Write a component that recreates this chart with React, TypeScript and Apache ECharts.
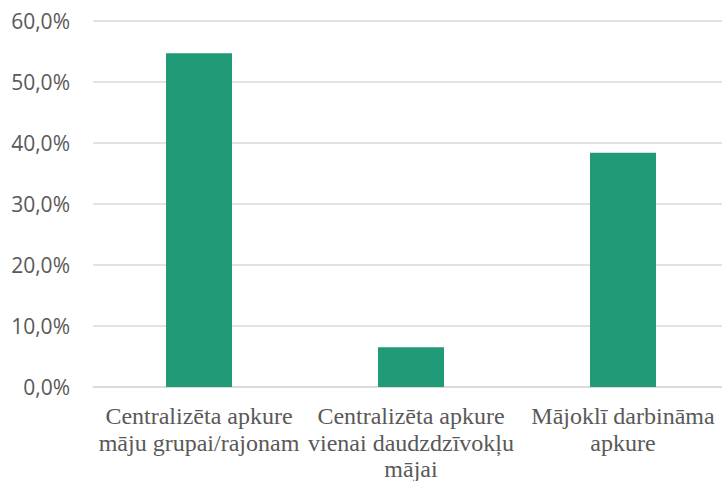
import React, { useEffect, useRef } from "react";
import * as echarts from "echarts";

const categories: string[] = [
  "Centralizēta apkure\nmāju grupai/rajonam",
  "Centralizēta apkure\nvienai daudzdzīvokļu\nmājai",
  "Mājoklī darbināma\napkure",
];
const shares: number[] = [54.7, 6.5, 38.4];
const yMin = 0;
const yMax = 60;
const yInterval = 10;

export default function App() {
  const ref = useRef<HTMLDivElement>(null);
  useEffect(() => {
    document.body.style.margin = "0";
    if (!ref.current) return;
    const chart = echarts.init(ref.current, undefined, { renderer: "svg" });
    chart.setOption({
      animation: false,
      backgroundColor: "#ffffff",
      grid: {
        left: 93,
        right: -7,
        top: 21,
        bottom: 94,
        containLabel: false,
        outerBoundsMode: "none",
      },
      xAxis: {
        type: "category",
        data: categories,
        axisLine: { show: true, lineStyle: { color: "#d9d9d9", width: 1.5 } },
        axisTick: { show: false },
        axisLabel: {
          interval: 0,
          margin: 16,
          color: "#595959",
          fontFamily: "Liberation Serif, Times New Roman, serif",
          fontSize: 24,
          lineHeight: 26.5,
          align: "center",
        },
      },
      yAxis: {
        type: "value",
        min: yMin,
        max: yMax,
        interval: yInterval,
        axisLine: { show: false },
        axisTick: { show: false },
        splitLine: { lineStyle: { color: "#d9d9d9", width: 1.5 } },
        axisLabel: {
          margin: 23,
          color: "#595959",
          fontFamily: "Open Sans, Noto Sans, sans-serif",
          fontSize: 21,
          formatter: (v: number) => v.toFixed(1).replace(".", ",") + "%",
        },
      },
      series: [
        {
          type: "bar",
          data: shares,
          barWidth: 66,
          itemStyle: { color: "#219b77" },
        },
      ],
    });
    return () => chart.dispose();
  }, []);
  return <div ref={ref} style={{ width: 722, height: 481 }} />;
}
